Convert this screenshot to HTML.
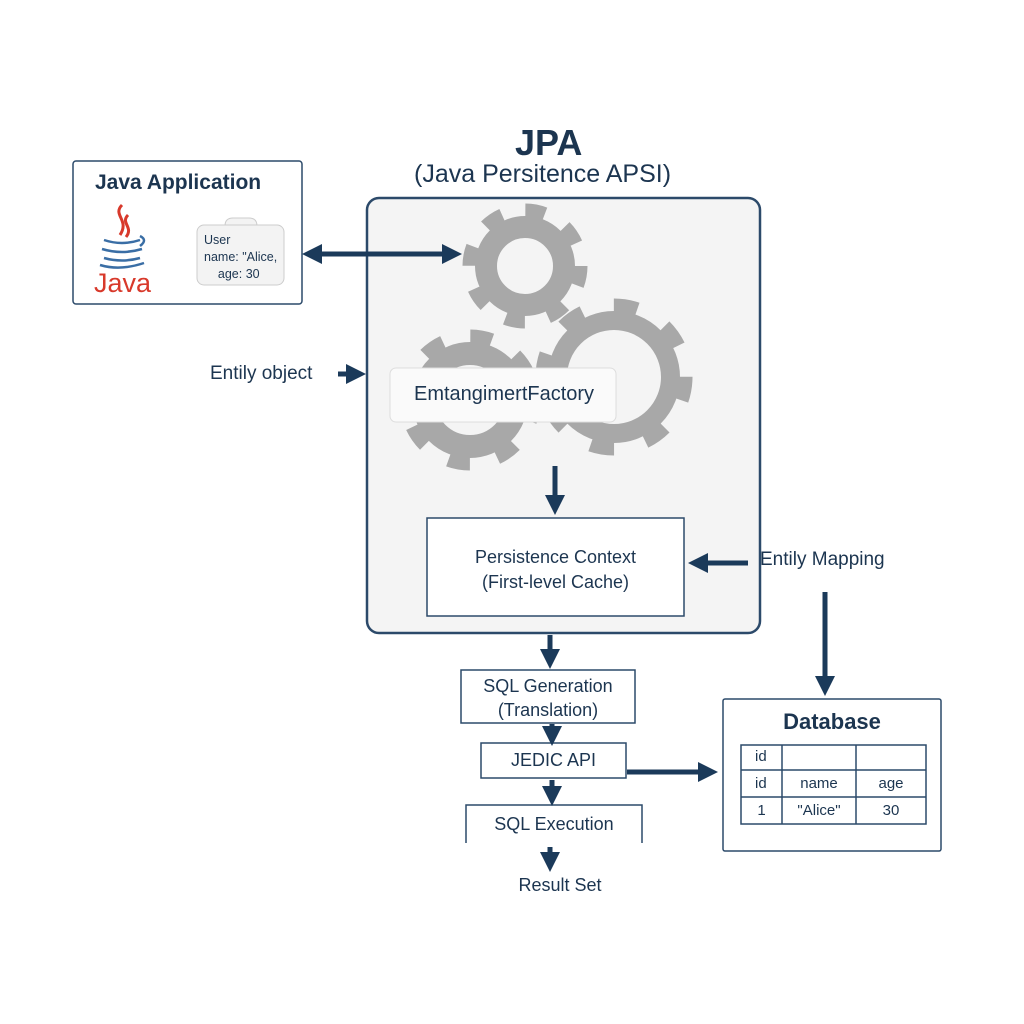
<!DOCTYPE html>
<html><head><meta charset="utf-8"><style>
body{margin:0;background:#fff;width:1024px;height:1024px;position:relative;overflow:hidden;font-family:"Liberation Sans",sans-serif;color:#1c3550}
.t{position:absolute;white-space:nowrap}
</style></head><body>
<svg width="1024" height="1024" style="position:absolute;left:0;top:0">
<defs><marker id="a" markerWidth="4" markerHeight="4" refX="2" refY="2" orient="auto-start-reverse" markerUnits="strokeWidth"><path d="M0,0 L4,2 L0,4 z" fill="#1b3a5a"/></marker></defs>
<rect x="367" y="198" width="393" height="435" rx="12" fill="#f4f4f4" stroke="#2c4a6a" stroke-width="2.5"/>
<g fill="none" stroke="#a8a8a8">
<circle cx="525" cy="266" r="56" stroke-width="13" stroke-dasharray="20 24"/>
<circle cx="525" cy="266" r="39" stroke-width="22"/>
<circle cx="614" cy="377" r="72" stroke-width="13" stroke-dasharray="24 32.5"/>
<circle cx="614" cy="377" r="56.5" stroke-width="19"/>
<circle cx="470" cy="400" r="64" stroke-width="13" stroke-dasharray="22 28.3"/>
<circle cx="470" cy="400" r="46.5" stroke-width="23"/>
</g>
<rect x="390" y="368" width="226" height="54" rx="6" fill="#fafafa" stroke="#dddddd"/>
<rect x="73" y="161" width="229" height="143" rx="3" fill="#fff" stroke="#2c4a6a" stroke-width="1.5"/>
<path d="M225,226 q0,-8 8,-8 h16 q8,0 8,8" fill="#f3f3f3" stroke="#ccc"/>
<rect x="197" y="225" width="87" height="60" rx="7" fill="#f3f3f3" stroke="#cccccc"/>
<path d="M122,205 c-10,10 8,15 -2,30 M128,215 c-8,8 6,12 -2,22" fill="none" stroke="#d8392b" stroke-width="3"/>
<g fill="none" stroke="#3a6ea5" stroke-width="2.5">
<path d="M104,240 q18,6 36,0"/><path d="M102,249 q20,6 40,0"/><path d="M104,258 q18,5 36,0"/><path d="M140,236 q8,4 0,10"/><path d="M100,265 q20,6 44,-2"/>
</g>
<rect x="427" y="518" width="257" height="98" fill="#fff" stroke="#2c4a6a" stroke-width="1.5"/>
<rect x="461" y="670" width="174" height="53" fill="#fff" stroke="#2c4a6a" stroke-width="1.5"/>
<rect x="481" y="743" width="145" height="35" fill="#fff" stroke="#2c4a6a" stroke-width="1.5"/>
<path d="M466,843 V805 H642 V843" fill="none" stroke="#2c4a6a" stroke-width="1.5"/>
<rect x="723" y="699" width="218" height="152" rx="2" fill="#fff" stroke="#2c4a6a" stroke-width="1.5"/>
<g fill="none" stroke="#2c4a6a" stroke-width="1.5">
<rect x="741" y="745" width="185" height="79"/>
<line x1="741" y1="770" x2="926" y2="770"/><line x1="741" y1="797" x2="926" y2="797"/>
<line x1="782" y1="745" x2="782" y2="824"/><line x1="856" y1="745" x2="856" y2="824"/>
</g>
<g stroke="#1b3a5a" stroke-width="5" fill="none">
<line x1="312" y1="254" x2="452" y2="254" marker-end="url(#a)" marker-start="url(#a)"/>
<line x1="338" y1="374" x2="356" y2="374" marker-end="url(#a)"/>
<line x1="555" y1="466" x2="555" y2="505" marker-end="url(#a)"/>
<line x1="748" y1="563" x2="698" y2="563" marker-end="url(#a)"/>
<line x1="825" y1="592" x2="825" y2="686" marker-end="url(#a)"/>
<line x1="550" y1="635" x2="550" y2="659" marker-end="url(#a)"/>
<line x1="552" y1="724" x2="552" y2="736" marker-end="url(#a)"/>
<line x1="552" y1="780" x2="552" y2="796" marker-end="url(#a)"/>
<line x1="627" y1="772" x2="708" y2="772" marker-end="url(#a)"/>
<line x1="550" y1="847" x2="550" y2="862" marker-end="url(#a)"/>
</g>
</svg>
<div class="t" style="left:515px;top:122px;font-size:36px;font-weight:bold">JPA</div>
<div class="t" style="left:414px;top:160px;font-size:25px">(Java Persitence APSI)</div>
<div class="t" style="left:95px;top:171px;font-size:21px;font-weight:bold">Java Application</div>
<div class="t" style="left:94px;top:268px;font-size:27px;color:#d8392b">Java</div>
<div class="t" style="left:204px;top:232px;font-size:12.5px;line-height:17px">User<br>name: "Alice,<br>&nbsp;&nbsp;&nbsp;&nbsp;age: 30</div>
<div class="t" style="left:210px;top:363px;font-size:19px">Entily object</div>
<div class="t" style="left:414px;top:383px;font-size:20px">EmtangimertFactory</div>
<div class="t" style="left:427px;top:545px;width:257px;text-align:center;font-size:18px;line-height:25px">Persistence Context<br>(First-level Cache)</div>
<div class="t" style="left:760px;top:549px;font-size:19px">Entily Mapping</div>
<div class="t" style="left:461px;top:674px;width:174px;text-align:center;font-size:18px;line-height:24px">SQL Generation<br>(Translation)</div>
<div class="t" style="left:481px;top:750px;width:145px;text-align:center;font-size:18px">JEDIC API</div>
<div class="t" style="left:466px;top:814px;width:176px;text-align:center;font-size:18px">SQL Execution</div>
<div class="t" style="left:460px;top:875px;width:200px;text-align:center;font-size:18px">Result Set</div>
<div class="t" style="left:723px;top:709px;width:218px;text-align:center;font-size:22px;font-weight:bold">Database</div>
<div class="t" style="left:755px;top:748px;font-size:15px">id</div>
<div class="t" style="left:755px;top:775px;font-size:15px">id</div>
<div class="t" style="left:782px;top:775px;width:74px;text-align:center;font-size:15px">name</div>
<div class="t" style="left:856px;top:775px;width:70px;text-align:center;font-size:15px">age</div>
<div class="t" style="left:741px;top:802px;width:41px;text-align:center;font-size:15px">1</div>
<div class="t" style="left:782px;top:802px;width:74px;text-align:center;font-size:15px">"Alice"</div>
<div class="t" style="left:856px;top:802px;width:70px;text-align:center;font-size:15px">30</div>
</body></html>
